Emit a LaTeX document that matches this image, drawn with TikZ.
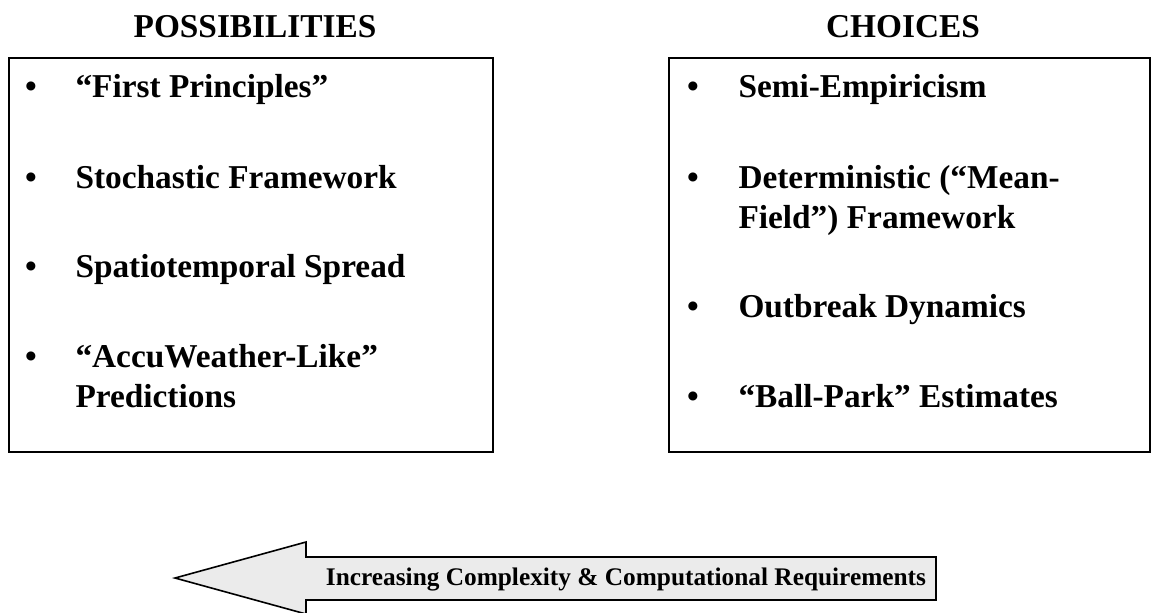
\documentclass[tikz,border=0pt]{standalone}
\usepackage{fontspec}
\setmainfont{Liberation Serif}

\tikzset{every picture/.style={line width=0.75pt}}
\tikzset{
  headtxt/.style={font=\bfseries\fontsize{25}{30}\selectfont, anchor=base, inner sep=0pt},
  itemtxt/.style={font=\bfseries\fontsize{25}{30}\selectfont, anchor=base west, inner sep=0pt, align=left},
  bullettxt/.style={font=\bfseries\fontsize{25}{30}\selectfont, anchor=base, inner sep=0pt},
  listbox/.style={draw, line width=1.5pt},
  arrowbody/.style={draw, line width=1.2pt, fill={rgb, 255:red, 235; green, 235; blue, 235}},
  arrowtxt/.style={font=\bfseries\fontsize{19}{22}\selectfont, inner sep=0pt}
}

\begin{document}
\begin{tikzpicture}[x=0.75pt,y=0.75pt,yscale=-1,xscale=1]
	\useasboundingbox (0,0) rectangle (1151,612);

	% Text Node
	\node[headtxt] (possib) at (255,37) {POSSIBILITIES};
	% Text Node
	\node[headtxt] (choice) at (903,37) {CHOICES};

	%Shape: Rectangle
	\draw[listbox] (9,58) rectangle (493,452);
	%Shape: Rectangle
	\draw[listbox] (669,58) rectangle (1150,452);

	% Text Node
	\node[bullettxt] (pb1) at (31,97) {•};
	\node[itemtxt] (p1) at (75,97) {“First Principles”};
	\node[bullettxt] (pb2) at (31,188) {•};
	\node[itemtxt] (p2) at (75,188) {Stochastic Framework};
	\node[bullettxt] (pb3) at (31,277) {•};
	\node[itemtxt] (p3) at (75,277) {Spatiotemporal Spread};
	\node[bullettxt] (pb4) at (31,367) {•};
	% two lines: placed by the baseline of the last line
	\node[itemtxt] (p4) at (75,407) {“AccuWeather-Like”\\Predictions};

	% Text Node
	\node[bullettxt] (cb1) at (693,97) {•};
	\node[itemtxt] (c1) at (738,97) {Semi-Empiricism};
	\node[bullettxt] (cb2) at (693,188) {•};
	\node[itemtxt] (c2) at (738,228) {Deterministic (“Mean-\\Field”) Framework};
	\node[bullettxt] (cb3) at (693,317) {•};
	\node[itemtxt] (c3) at (738,317) {Outbreak Dynamics};
	\node[bullettxt] (cb4) at (693,407) {•};
	\node[itemtxt] (c4) at (738,407) {“Ball-Park” Estimates};

	%Shape: Left Arrow
	\draw[arrowbody] (936,557) -- (306,557) -- (306,542) -- (175,578) -- (306,614) -- (306,600) -- (936,600) -- cycle;
	% Text Node
	\node[arrowtxt] (cmplx) at (626,579) {Increasing Complexity \& Computational Requirements};

\end{tikzpicture}
\end{document}
